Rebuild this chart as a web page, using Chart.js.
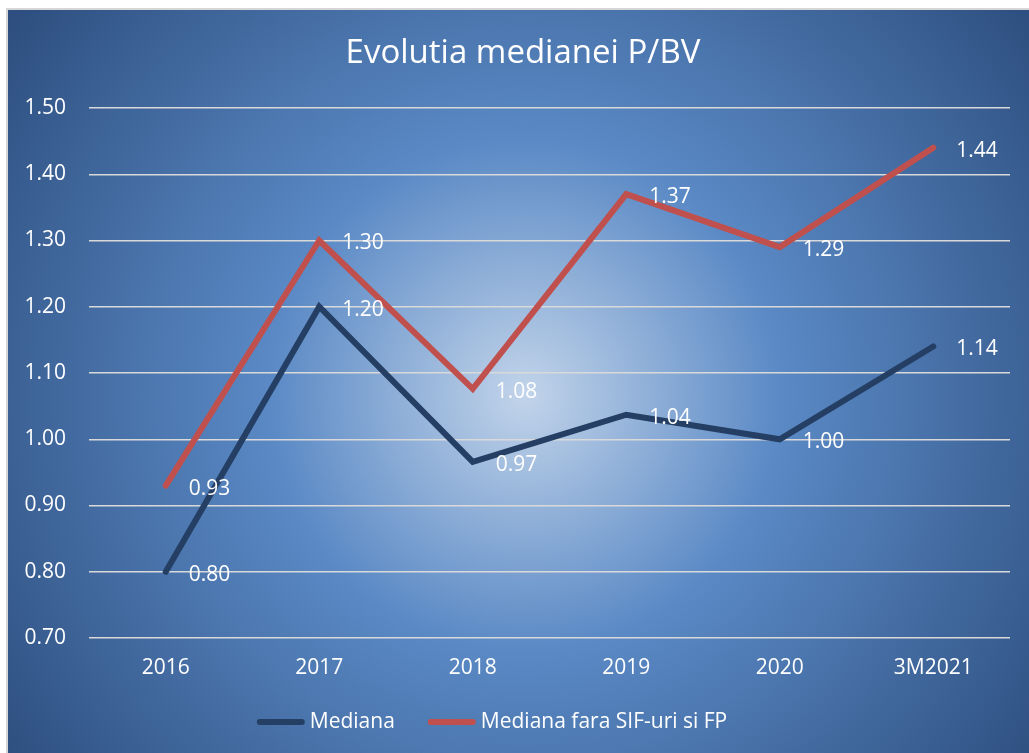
<!DOCTYPE html>
<html>
<head>
<meta charset="utf-8">
<script src="https://cdn.jsdelivr.net/npm/chart.js@4/dist/chart.umd.min.js"></script>
<style>
  html, body { margin: 0; padding: 0; background: #fff; }
  canvas { display: block; }
</style>
</head>
<body>
<canvas id="myChart" width="1029" height="753"></canvas>
<script>
// data
const categories = ["2016", "2017", "2018", "2019", "2020", "3M2021"];
const mediana = [0.80, 1.20, 0.966, 1.037, 1.00, 1.14];
const medianaFaraSif = [0.93, 1.30, 1.076, 1.37, 1.29, 1.44];
const seriesNames = ["Mediana", "Mediana fara SIF-uri si FP"];
const yTicks = { min: 0.7, max: 1.5, step: 0.1 };
const chartTitle = "Evolutia medianei P/BV";

const FONT = "'Open Sans', 'Noto Sans', sans-serif";
const navy = "#243f63";
const red = "#c0504d";

// gradient background + light border + title
const bgPlugin = {
  id: "bg",
  beforeDraw(chart) {
    const ctx = chart.ctx;
    ctx.save();
    ctx.fillStyle = "#fff";
    ctx.fillRect(0, 0, chart.width, chart.height);
    const g = ctx.createRadialGradient(525, 395, 0, 525, 395, 640);
    g.addColorStop(0, "#c2d4ea");
    g.addColorStop(0.4, "#5a89c5");
    g.addColorStop(1, "#2d4e7e");
    ctx.fillStyle = g;
    ctx.fillRect(7, 9, chart.width, chart.height);
    ctx.strokeStyle = "#d6d6d6";
    ctx.lineWidth = 2;
    ctx.beginPath();
    ctx.moveTo(7, chart.height + 5);
    ctx.lineTo(7, 9);
    ctx.lineTo(chart.width + 5, 9);
    ctx.stroke();

    // title
    ctx.font = "33px " + FONT;
    ctx.fillStyle = "#fff";
    ctx.textAlign = "center";
    ctx.textBaseline = "middle";
    ctx.fillText(chartTitle, 523, 54);
    ctx.restore();
  }
};

// value labels right of each point
const labelPlugin = {
  id: "valueLabels",
  afterDatasetsDraw(chart) {
    const ctx = chart.ctx;
    ctx.save();
    ctx.font = "21px " + FONT;
    ctx.fillStyle = "#fff";
    ctx.textAlign = "left";
    ctx.textBaseline = "middle";
    chart.data.datasets.forEach((ds, i) => {
      chart.getDatasetMeta(i).data.forEach((pt, j) => {
        ctx.fillText(ds.data[j].toFixed(2), pt.x + 23, pt.y + 3);
      });
    });
    ctx.restore();
  }
};

// legend drawn at the bottom
const legendPlugin = {
  id: "bottomLegend",
  afterDraw(chart) {
    const ctx = chart.ctx;
    ctx.save();
    ctx.font = "21px " + FONT;
    const markW = 48, gap = 5, itemGap = 33;
    const items = chart.data.datasets.map(ds => ({
      text: ds.label, color: ds.borderColor, w: ctx.measureText(ds.label).width
    }));
    let total = 0;
    items.forEach((it, i) => { total += markW + gap + it.w + (i ? itemGap : 0); });
    let x = 492 - total / 2;
    const y = 722;
    items.forEach((it) => {
      ctx.strokeStyle = it.color;
      ctx.lineWidth = 6;
      ctx.lineCap = "round";
      ctx.beginPath();
      ctx.moveTo(x + 3, y);
      ctx.lineTo(x + markW - 3, y);
      ctx.stroke();
      ctx.fillStyle = "#fff";
      ctx.textAlign = "left";
      ctx.textBaseline = "middle";
      ctx.fillText(it.text, x + markW + gap, y);
      x += markW + gap + it.w + itemGap;
    });
    ctx.restore();
  }
};

const data = {
  labels: categories,
  datasets: [
    {
      label: seriesNames[0],
      data: mediana,
      borderColor: navy,
      backgroundColor: navy,
      borderWidth: 6,
      borderCapStyle: "round",
      borderJoinStyle: "miter",
      pointRadius: 0,
      tension: 0
    },
    {
      label: seriesNames[1],
      data: medianaFaraSif,
      borderColor: red,
      backgroundColor: red,
      borderWidth: 6,
      borderCapStyle: "round",
      borderJoinStyle: "miter",
      pointRadius: 0,
      tension: 0
    }
  ]
};

const config = {
  type: "line",
  data: data,
  options: {
    responsive: false,
    animation: false,
    layout: { padding: { left: 0, right: 19, top: 108, bottom: 0 } },
    plugins: {
      legend: { display: false },
      tooltip: { enabled: false },
      title: { display: false }
    },
    scales: {
      x: {
        offset: true,
        grid: { display: false, drawTicks: false },
        border: { display: false },
        ticks: { color: "#fff", font: { family: FONT, size: 21 }, padding: 17, maxRotation: 0 },
        afterFit(scale) { scale.height = 115; }
      },
      y: {
        min: yTicks.min,
        max: yTicks.max,
        grid: { color: "#d9d9d9", lineWidth: 1.5, drawTicks: false },
        border: { display: false },
        ticks: {
          stepSize: yTicks.step,
          color: "#fff",
          font: { family: FONT, size: 21 },
          padding: 23,
          callback: (v) => Number(v).toFixed(2)
        },
        afterFit(scale) { scale.width = 89; }
      }
    }
  },
  plugins: [bgPlugin, labelPlugin, legendPlugin]
};

var myChart = new Chart(document.getElementById("myChart"), config);
</script>
</body>
</html>
